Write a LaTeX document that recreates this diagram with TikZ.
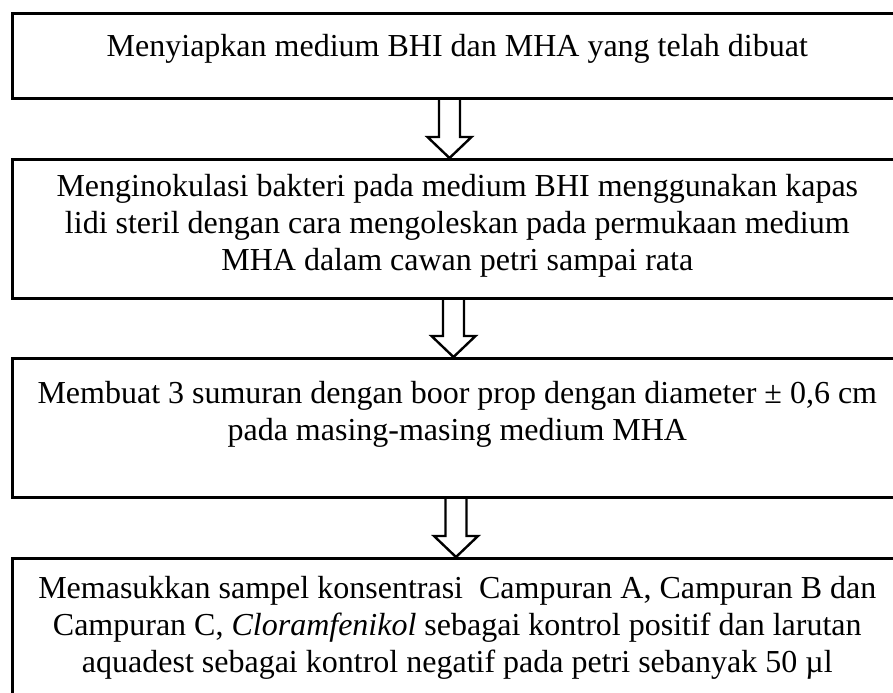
\documentclass[tikz,border=0pt]{standalone}
\usepackage{fontspec}
\setmainfont{Liberation Serif}
\usetikzlibrary{calc}

\tikzset{
  stepbox/.style={draw, line width=1.3pt, inner sep=0pt, minimum width=445pt, anchor=north west},
  hollow/.style={draw, line width=1.2pt, line join=miter}
}
% box text: height, top gap, lines
\newcommand\steptext[3]{\parbox[c][#1][t]{440pt}{\centering\fontsize{16}{18.5}\selectfont\vspace*{#2}#3}}
% hollow down arrow: from box, to box, x of its axis
\newcommand\hollowarrow[3]{%
  \coordinate (h) at ($(#2.north)+(0,-21)$);
  \draw[hollow] (#3-10.5,0 |- #1.south) -- (#3-10.5,0 |- h) -- (#3-22,0 |- h)
    -- (#3,0 |- #2.north) -- (#3+22,0 |- h) -- (#3+10.5,0 |- h) -- (#3+10.5,0 |- #1.south);}

\begin{document}
\begin{tikzpicture}[x=0.5pt, y=-0.5pt]
  \clip (0,0) rectangle (893,692);

  \node[stepbox] (prep) at (11,12) {\steptext{42.5pt}{10.5pt}{Menyiapkan medium BHI dan MHA yang telah dibuat}};
  \node[stepbox] (inok) at (11,158) {\steptext{69.5pt}{7.5pt}{Menginokulasi bakteri pada medium BHI menggunakan kapas\\
    lidi steril dengan cara mengoleskan pada permukaan medium\\
    MHA dalam cawan petri sampai rata}};
  \node[stepbox] (well) at (11,357) {\steptext{69.5pt}{11.5pt}{Membuat 3 sumuran dengan boor prop dengan diameter ± 0,6 cm\\
    pada masing-masing medium MHA}};
  \node[stepbox] (samp) at (11,557) {\steptext{75pt}{9pt}{Memasukkan sampel konsentrasi\ \ Campuran A, Campuran B dan\\
    Campuran C, \textit{Cloramfenikol} sebagai kontrol positif dan larutan\\
    aquadest sebagai kontrol negatif pada petri sebanyak 50 µl}};

  \hollowarrow{prep}{inok}{449.5}
  \hollowarrow{inok}{well}{453.5}
  \hollowarrow{well}{samp}{456}
\end{tikzpicture}
\end{document}
